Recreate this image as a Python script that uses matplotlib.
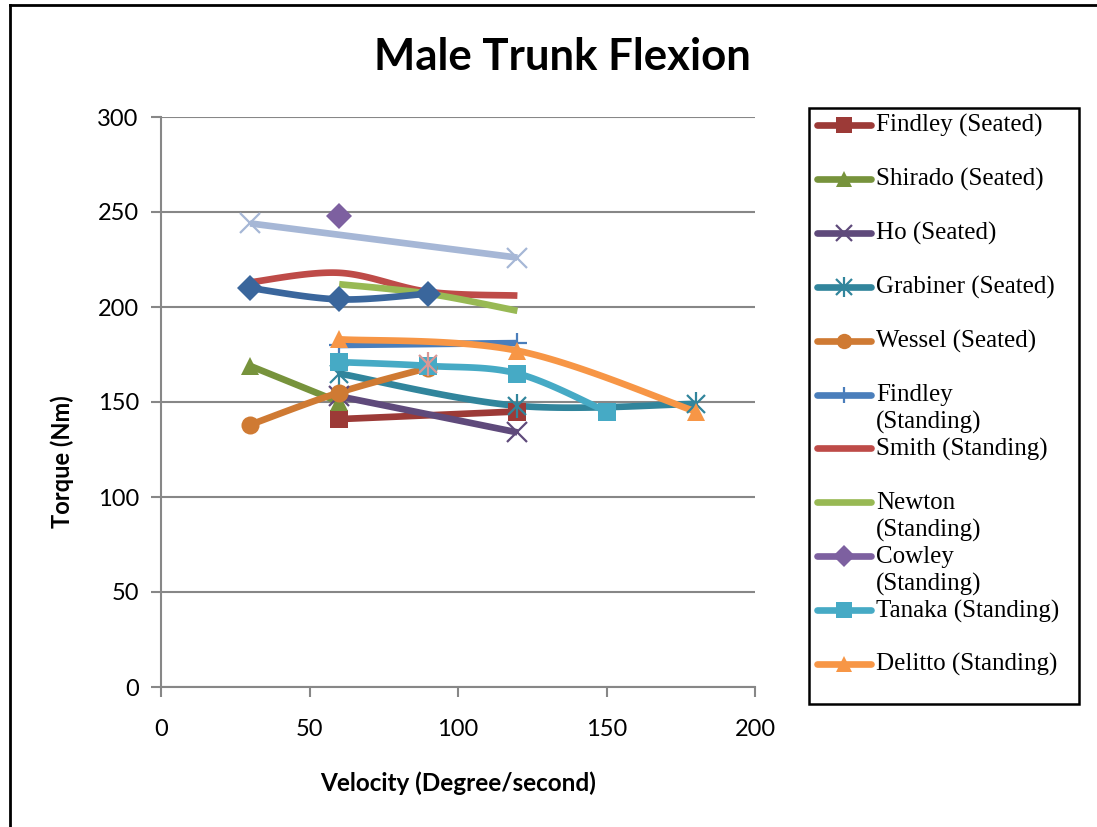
import numpy as np
import matplotlib
matplotlib.use("Agg")
import matplotlib.pyplot as plt
from matplotlib.lines import Line2D
from matplotlib.patches import Rectangle

W, H = 1097, 827

# series: name, x values, y values, color, marker, in legend
names = ["Findley (Seated)", "Shirado (Seated)", "Ho (Seated)", "Grabiner (Seated)",
         "Wessel (Seated)", "Findley\n(Standing)", "Smith (Standing)", "Newton\n(Standing)",
         "Cowley\n(Standing)", "Tanaka (Standing)", "Delitto (Standing)",
         "Series 12", "Series 13", "Series 14"]
xs = [[60, 120], [30, 60], [60, 120], [60, 120, 180], [30, 60, 90], [60, 120],
      [30, 60, 90, 120], [60, 90, 120], [60], [60, 90, 120, 150], [60, 120, 180],
      [30, 120], [30, 60, 90], [90]]
ys = [[141, 145], [169, 150], [153, 134], [165, 148, 149], [138, 155, 168], [180, 181],
      [213, 218, 208, 206], [212, 207, 198], [248], [171, 169, 165, 145], [183, 177, 145],
      [244, 226], [210, 204, 207], [170]]
colors = ["#9C3A37", "#77933C", "#5F4A7B", "#31859C", "#CF7A33", "#4A7EBB", "#BE4B48",
          "#98B954", "#7D60A0", "#46AAC5", "#F79646", "#A6B7D6", "#3A669C", "#D99795"]
markers = ["s", "^", "x", "*", "o", "+", "", "", "D", "s", "^", "x", "D", "*"]
n_legend = 11


def smooth(x, y, n=30):
    # Excel-style smoothed line: cubic Bezier through the points
    x = np.asarray(x, float)
    y = np.asarray(y, float)
    if len(x) < 3:
        return x, y
    p = np.column_stack([x, y])
    ext = np.vstack([p[0], p, p[-1]])
    out = []
    t = np.linspace(0, 1, n)[:, None]
    for i in range(len(p) - 1):
        p0, p1 = ext[i + 1], ext[i + 2]
        c1 = p0 + (ext[i + 2] - ext[i]) / 6
        c2 = p1 - (ext[i + 3] - ext[i + 1]) / 6
        seg = (1 - t) ** 3 * p0 + 3 * (1 - t) ** 2 * t * c1 + 3 * (1 - t) * t ** 2 * c2 + t ** 3 * p1
        out.append(seg)
    out = np.vstack(out)
    return out[:, 0], out[:, 1]


def mstyles(m, scale=1.0):
    # Excel "star" = an x with a vertical bar through it
    if m == "*":
        return [dict(marker="x", markersize=13 * scale, markeredgewidth=1.6),
                dict(marker="|", markersize=17 * scale, markeredgewidth=1.6)]
    if m in ("x", "+"):
        return [dict(marker=m, markersize=14 * scale, markeredgewidth=1.6)]
    return [dict(marker=m, markersize=13 * scale, markeredgewidth=0)]


fig = plt.figure(figsize=(W / 100, H / 100), dpi=100)
ax = fig.add_axes([161 / W, 1 - 687 / H, (755 - 161) / W, (687 - 117) / H])

for i in range(len(names)):
    sx, sy = smooth(xs[i], ys[i])
    if len(xs[i]) > 1:
        ax.plot(sx, sy, color=colors[i], lw=4.8, solid_capstyle="butt", zorder=2)
    if markers[i]:
        for st in mstyles(markers[i]):
            ax.plot(xs[i], ys[i], ls="none", color=colors[i], zorder=3, **st)

ax.set_xlim(0, 200)
ax.set_ylim(0, 300)
ax.set_xticks(range(0, 201, 50))
ax.set_yticks(range(0, 301, 50))
ax.grid(axis="y", color="#878787", lw=1.5)
ax.set_axisbelow(True)
for s in ["top", "right"]:
    ax.spines[s].set_visible(False)
for s in ["left", "bottom"]:
    ax.spines[s].set_color("#878787")
    ax.spines[s].set_linewidth(1.5)
ax.tick_params(axis="both", color="#878787", width=1.5, length=7, direction="out",
               labelsize=17)
ax.tick_params(axis="y", pad=9)
ax.tick_params(axis="x", pad=16)
for lab in ax.get_xticklabels() + ax.get_yticklabels():
    lab.set_fontfamily("Lato")

fig.text(562 / W, 1 - 57 / H, "Male Trunk Flexion", ha="center", va="center",
         fontsize=31.5, fontweight="bold", family="Lato")
fig.text(62 / W, 1 - 462 / H, "Torque (Nm)", ha="center", va="center", rotation=90,
         fontsize=17, fontweight="bold", family="Lato")
fig.text(458 / W, 1 - 783 / H, "Velocity (Degree/second)", ha="center", va="center",
         fontsize=17.5, fontweight="bold", family="Lato")

# outer chart border (only left and top are inside the crop)
fig.add_artist(Line2D([10 / W, 10 / W], [0, 1 - 5 / H], transform=fig.transFigure,
                      color="black", lw=2))
fig.add_artist(Line2D([10 / W, 1], [1 - 5 / H, 1 - 5 / H], transform=fig.transFigure,
                      color="black", lw=2))

# legend box drawn by hand to keep Excel's overlapping entries
fig.add_artist(Rectangle((809 / W, 1 - 704 / H), (1079 - 809) / W, (704 - 108) / H,
                         transform=fig.transFigure, fill=False, edgecolor="black", lw=1.8))
for i in range(n_legend):
    yp = 125 + i * 53.9
    yc = 1 - yp / H
    fig.add_artist(Line2D([817 / W, 871 / W], [yc, yc], transform=fig.transFigure,
                          color=colors[i], lw=4.8, solid_capstyle="round"))
    if markers[i]:
        for st in mstyles(markers[i], 0.85):
            fig.add_artist(Line2D([844 / W], [yc], transform=fig.transFigure, ls="none",
                                  color=colors[i], **st))
    for k, part in enumerate(names[i].split("\n")):
        fig.text(876 / W, 1 - (yp + 7 + 27 * k) / H, part, ha="left", va="baseline",
                 fontsize=18, family="Liberation Serif")

fig.savefig("out.png", dpi=100)
